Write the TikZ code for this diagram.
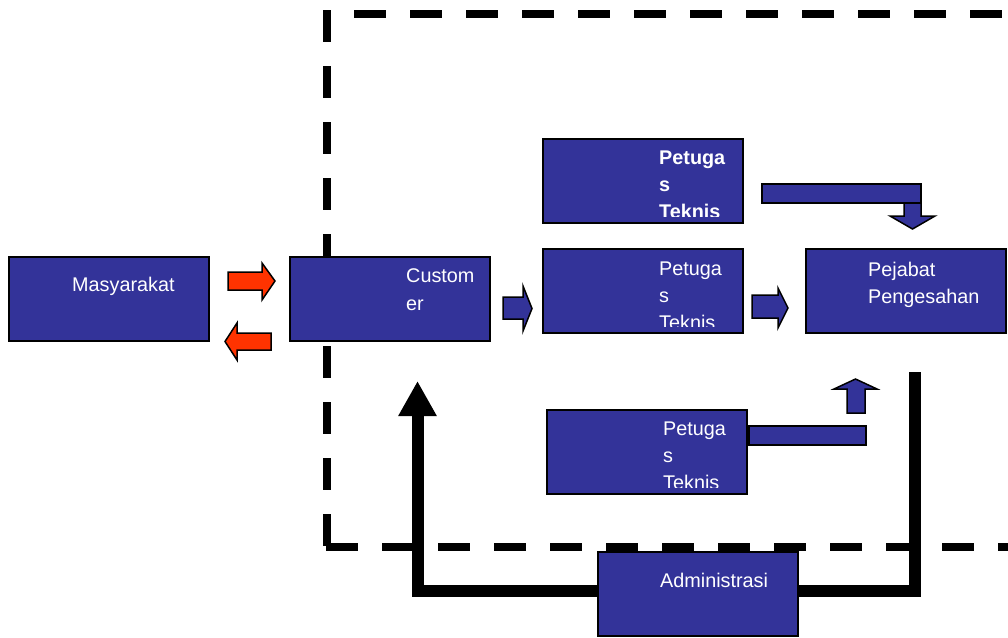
\documentclass[tikz,border=0pt]{standalone}
\usepackage{fontspec}
\setmainfont{Liberation Sans}
\usetikzlibrary{arrows.meta,backgrounds}
\definecolor{boxBlue}{RGB}{51,51,153}
\definecolor{arrowRed}{RGB}{255,51,0}
\newcommand{\boxWidth}{200pt}
\newcommand{\boxHeight}{84pt}
\newcommand{\textCut}{7pt}
\tikzset{
  unitbox/.style={draw=black, line width=1.5pt, fill=boxBlue, minimum width=\boxWidth,
    minimum height=\boxHeight, anchor=north west, inner sep=0pt, outer sep=0pt},
  boxtext/.style={text=white, anchor=north west, inner sep=0pt, align=left,
    font=\fontsize{19.8}{27}\selectfont},
  frameline/.style={line width=8pt, dash pattern=on 32pt off 24pt},
  flowline/.style={line width=12pt, line join=miter},
  blueArrow/.style={draw=black, line width=1.5pt, fill=boxBlue, line join=miter},
  redArrow/.style={draw=black, line width=1.5pt, fill=arrowRed, line join=miter}
}

\begin{document}
\begin{tikzpicture}[x=1pt, y=-1pt]
  \useasboundingbox (0,0) rectangle (1008,637);

  % boxes
  \node[unitbox] (masy) at (9,257) {};
  \node[unitbox] (cust) at (290,257) {};
  \node[unitbox] (petA) at (543,139) {};
  \node[unitbox] (petB) at (543,249) {};
  \node[unitbox] (pej) at (806,249) {};
  \node[unitbox] (petC) at (547,410) {};
  \node[unitbox] (admin) at (598,552) {};

  \coordinate (custIn) at (417.5,381);
  \coordinate (pejIn) at (915,372);
  \begin{scope}[on background layer]
    % dashed frame
    \draw[frameline] (354,14) -- (1040,14);
    \draw[frameline] (327,10) -- (327,547);
    \draw[frameline] (326,547) -- (1040,547);
    % feedback line through Administrasi
    \draw[flowline, -{Triangle[width=36pt,length=35pt]}] ([yshift=3pt]admin.west) -| (custIn);
    \draw[flowline] ([yshift=3pt]admin.east) -| (pejIn);
  \end{scope}

  % texts
  \node[boxtext] (masyTxt) at (72,276.8) {Masyarakat};
  \node[boxtext] (custTxt) at (406,268.8) {Custom\\[1pt]er};
  \node[boxtext] (pejTxt) at (868,261.8) {Pejabat\\Pengesahan};
  \node[boxtext] (adminTxt) at (660,572.8) {Administrasi};
  \begin{scope}
    \clip (petA.north west) rectangle ([yshift=\textCut]petA.south east);
    \node[boxtext, font=\fontsize{19.8}{27}\selectfont\bfseries] (petATxt) at (659,150.8) {Petuga\\s\\Teknis};
  \end{scope}
  \begin{scope}
    \clip (petB.north west) rectangle ([yshift=\textCut]petB.south east);
    \node[boxtext] (petBTxt) at (659,261.8) {Petuga\\s\\Teknis};
  \end{scope}
  \begin{scope}
    \clip (petC.north west) rectangle ([yshift=\textCut]petC.south east);
    \node[boxtext] (petCTxt) at (663,421.8) {Petuga\\s\\Teknis};
  \end{scope}

  % block arrows
  \draw[redArrow] (228,272) -- (262,272) -- (262,263) -- (275,281) -- (262,300) -- (262,290) -- (228,290) -- cycle;
  \draw[redArrow] (271,333) -- (237,333) -- (237,323) -- (225,341.5) -- (237,360) -- (237,350) -- (271,350) -- cycle;
  \draw[blueArrow] (503,297) -- (523,297) -- (523,286) -- (532,308.5) -- (523,331) -- (523,319) -- (503,319) -- cycle;
  \draw[blueArrow] (752,295) -- (778,295) -- (778,288) -- (788,308) -- (778,328) -- (778,318) -- (752,318) -- cycle;
  \draw[blueArrow] (904,195) -- (904,216) -- (890,216) -- (912.5,229) -- (935,216) -- (921,216) -- (921,195) -- cycle;
  \draw[blueArrow] (762,184) rectangle (921,203);
  \draw[blueArrow] (749,426) rectangle (866,445);
  \draw[blueArrow] (847,413) -- (847,389) -- (834,389) -- (855.5,379) -- (877,389) -- (865,389) -- (865,413) -- cycle;
\end{tikzpicture}
\end{document}
